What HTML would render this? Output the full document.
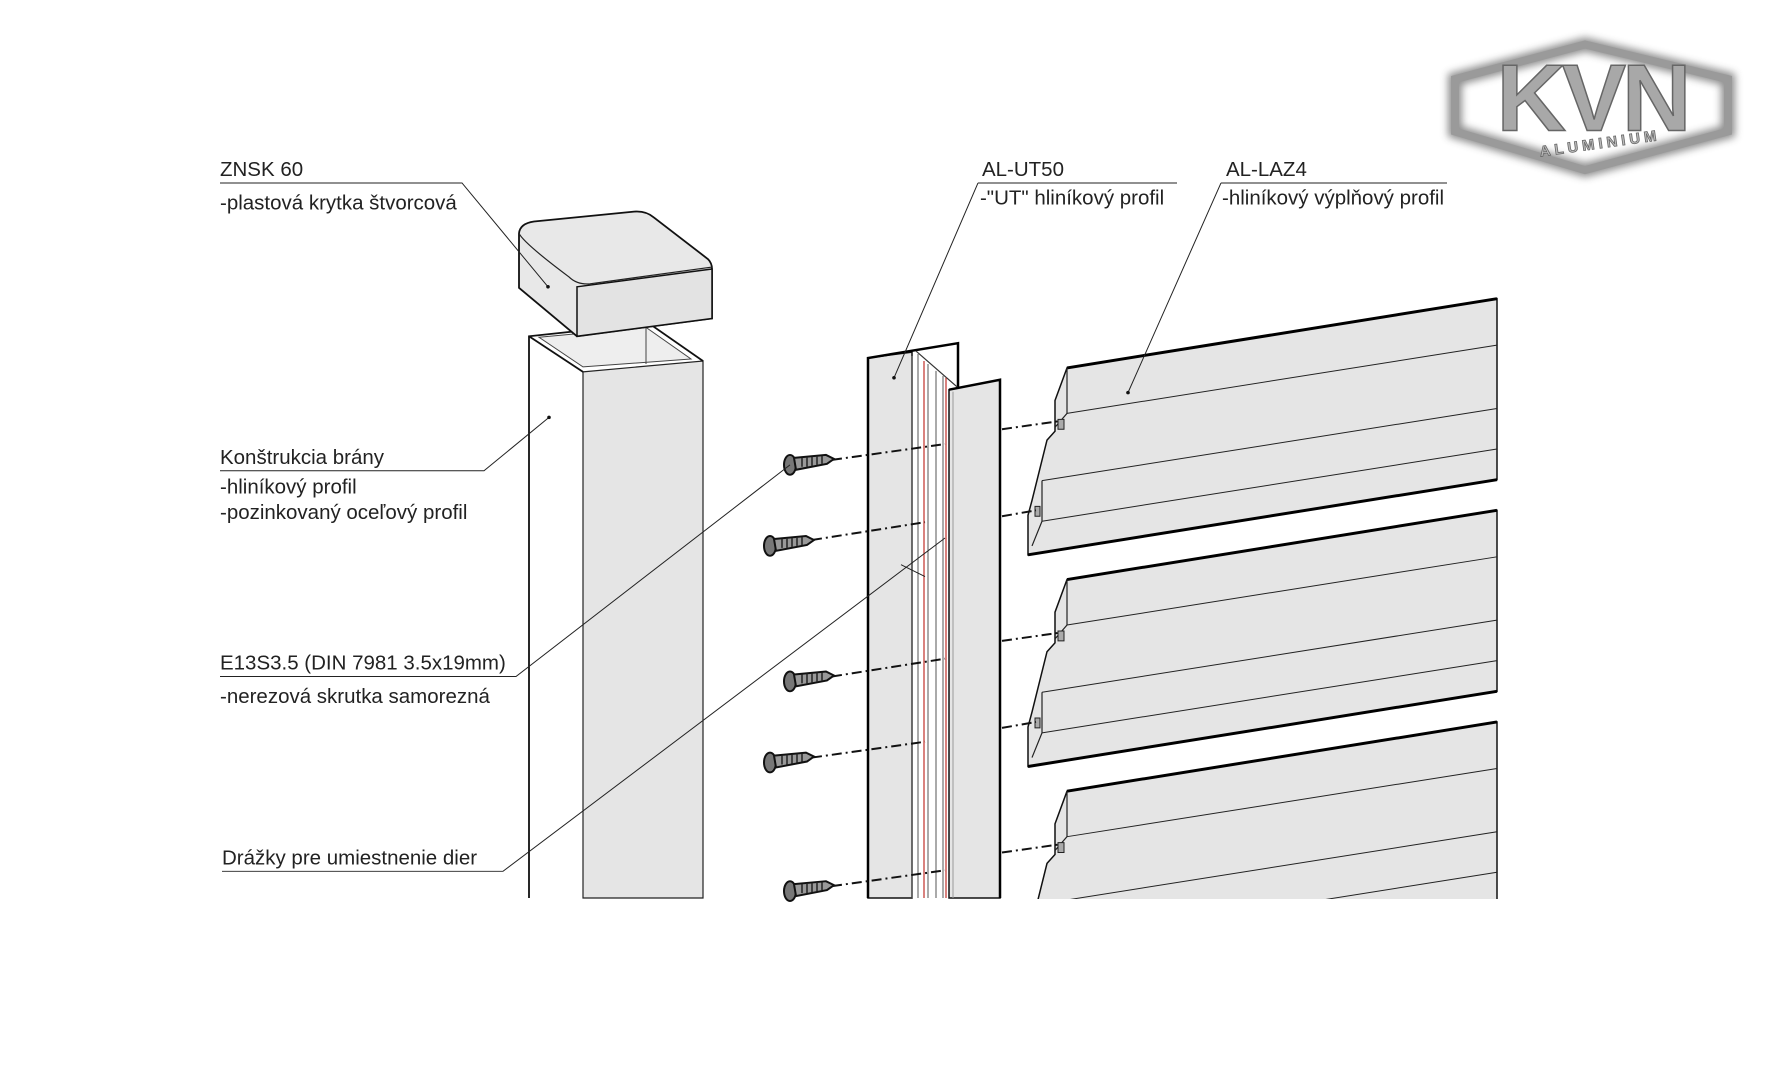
<!DOCTYPE html>
<html><head><meta charset="utf-8"><style>
html,body{margin:0;padding:0;background:#fff;}
svg{display:block;}
text{font-family:"Liberation Sans",sans-serif;font-size:20.5px;fill:#222;}
</style></head><body>
<svg width="1766" height="1080" viewBox="0 0 1766 1080" xmlns="http://www.w3.org/2000/svg">
<defs>
<filter id="bl" x="-20%" y="-20%" width="140%" height="140%"><feGaussianBlur stdDeviation="4"/></filter>
<g id="screw">
<ellipse cx="0" cy="0" rx="6" ry="10" fill="#777" stroke="#111" stroke-width="2"/>
<path d="M4,-7 L36,-10 L44,-6 L37,-1 L6,5 Z" fill="#999" stroke="#111" stroke-width="2"/>
<path d="M12,-7 l0,9 M17,-8 l0,10 M22,-8 l0,9 M27,-9 l0,9 M32,-9 l0,8" stroke="#222" stroke-width="1.5"/>
</g>
<g id="panel">
<path d="M1067,0 L1497,-70 L1497,113 L1028,189 L1028,149 L1032,134 L1047,73 L1055,64 L1055,33 Z" fill="#e5e5e5" stroke="#111" stroke-width="1.5"/>
<path d="M1067,0 L1497,-70 M1028,189 L1497,113" stroke="#000" stroke-width="3" fill="none"/>
<path d="M1067,46 L1497,-23 M1042,114 L1497,41 M1042,155 L1497,82" stroke="#222" stroke-width="1" fill="none"/>
<path d="M1067,0 L1067,46 L1055,60 M1042,114 L1042,155 L1032,180" stroke="#222" stroke-width="1.2" fill="none"/>
<path d="M1058,52 L1064,52 L1064,62 L1058,62 Z M1035,140 L1040,140 L1040,150 L1035,150 Z" fill="#aaa" stroke="#222" stroke-width="1"/>
</g>
<clipPath id="cp"><rect x="0" y="0" width="1766" height="909"/></clipPath>
</defs>
<g transform="scale(1,0.989)">
<!-- Logo -->
<g filter="url(#bl)" opacity="0.6"><path d="M1455,80 L1585,45 L1728,80 L1728,133 L1585,172 L1455,133 Z" fill="none" stroke="#444" stroke-width="14"/></g>
<path d="M1455,80 L1585,45 L1728,80 L1728,133 L1585,172 L1455,133 Z" fill="none" stroke="#9a9a9a" stroke-width="8"/>
<text x="1592" y="132" text-anchor="middle" style="font-size:96px;font-weight:bold;fill:#a8a8a8;stroke:#666;stroke-width:1.5;letter-spacing:-4px">KVN</text>
<text x="1600" y="150" text-anchor="middle" transform="rotate(-8 1600 145)" style="font-size:15px;font-weight:bold;fill:#bbb;stroke:#666;stroke-width:0.8;letter-spacing:4px">ALUMINIUM</text>

<g transform="translate(-6,0)">
<path d="M535,340 L655,327 L709,365 L709,908 L535,908 Z" fill="#fff" stroke="none"/>
<path d="M589,376 L709,365 L709,908 L589,908 Z" fill="#e5e5e5" stroke="#222" stroke-width="1.2"/>
<path d="M535,908 L535,340 L655,327 L709,365 M535,340 L589,376" stroke="#111" stroke-width="1.8" fill="none"/>
<path d="M545,341 L652,331 L697,363 L589,371 Z" fill="#eee" stroke="#444" stroke-width="1"/>
<path d="M652,331 L652,368" stroke="#444" stroke-width="1"/>
<path d="M525,236 Q526,226 540,224 L640,214 Q652,213 660,220 L714,262 Q718,266 718,272 L718,322 L583,340 L583,340 L525,291 Z" fill="#e8e8e8" stroke="#111" stroke-width="1.8"/>
<path d="M525,236 Q530,246 575,280 Q583,288 596,287 L718,270" stroke="#222" stroke-width="1.2" fill="none"/>
<path d="M583,290 L718,272 L718,322 L583,340 Z" fill="#e3e3e3" stroke="#111" stroke-width="1.5"/>
</g>

<!-- UT profile -->
<path d="M868,362 L958,347 L958,392 L1000,383 L1000,908 L868,908 Z" fill="#fff"/>
<path d="M868,362 L912,356 L912,908 L868,908 Z" fill="#e5e5e5" stroke="#111" stroke-width="1.5"/>
<path d="M868,908 L868,362 L958,347 L958,392" stroke="#000" stroke-width="2.5" fill="none"/>
<path d="M916,355 L958,392" stroke="#333" stroke-width="1.2"/>
<path d="M912,360 L912,908 M918,358 L918,908 M928,368 L928,908 M936,375 L936,908 M943,380 L943,908" stroke="#555" stroke-width="1"/>
<path d="M924,365 L924,908 M946,382 L946,908" stroke="#c0302a" stroke-width="1.2"/>
<path d="M949,394 L1000,384 L1000,908 L949,908 Z" fill="#e5e5e5" stroke="#111" stroke-width="1.5"/>
<path d="M949,394 L1000,384 L1000,908" stroke="#000" stroke-width="2.5" fill="none"/>
<path d="M953,396 L953,908" stroke="#999" stroke-width="1"/>

<!-- Panels -->
<use href="#panel" transform="translate(0,372)"/>
<use href="#panel" transform="translate(0,586)"/>
<g clip-path="url(#cp)"><use href="#panel" transform="translate(0,800)"/></g>

<g stroke="#111" stroke-width="2" stroke-dasharray="10,4,2,4" fill="none">
<path d="M1002,434 L1058,426 M1002,522 L1036,516"/>
<path d="M1002,648 L1058,640 M1002,736 L1036,730"/>
<path d="M1002,862 L1058,854"/>
<path d="M832,465 L945,449 M812,546 L925,528 M832,684 L945,666 M812,766 L925,750 M832,896 L945,880"/>
</g>

<use href="#screw" transform="translate(790,470)"/>
<use href="#screw" transform="translate(770,552)"/>
<use href="#screw" transform="translate(790,689)"/>
<use href="#screw" transform="translate(770,771)"/>
<use href="#screw" transform="translate(790,901)"/>

<g transform="translate(-2,0)">
<text x="222" y="178">ZNSK 60</text>
<text x="222" y="212">-plastová krytka štvorcová</text>
<text x="222" y="469">Konštrukcia brány</text>
<text x="222" y="499">-hliníkový profil</text>
<text x="222" y="525">-pozinkovaný oceľový profil</text>
<text x="222" y="677">E13S3.5 (DIN 7981 3.5x19mm)</text>
<text x="222" y="711">-nerezová skrutka samorezná</text>
<text x="224" y="874">Drážky pre umiestnenie dier</text>
</g>
<path d="M220,185 L462,185 L548,290" stroke="#222" stroke-width="1" fill="none"/>
<path d="M220,476 L484,476 L549,422" stroke="#222" stroke-width="1" fill="none"/>
<path d="M220,684 L516,684 L790,470" stroke="#222" stroke-width="1" fill="none"/>
<path d="M222,881 L503,881 L945,544 M901,571 L925,583" stroke="#222" stroke-width="1" fill="none"/>
<text x="982" y="178">AL-UT50</text>
<text x="980" y="207">-"UT" hliníkový profil</text>
<path d="M978,185 L1177,185 M978,185 L894,382" stroke="#222" stroke-width="1" fill="none"/>
<text x="1226" y="178">AL-LAZ4</text>
<text x="1222" y="207">-hliníkový výplňový profil</text>
<path d="M1221,185 L1447,185 M1221,185 L1128,397" stroke="#222" stroke-width="1" fill="none"/>
<circle cx="549" cy="422" r="1.8" fill="#111"/>
<circle cx="548" cy="290" r="1.8" fill="#111"/>
<circle cx="894" cy="382" r="1.8" fill="#111"/>
<circle cx="1128" cy="397" r="1.8" fill="#111"/>
</g>
</svg>
</body></html>
